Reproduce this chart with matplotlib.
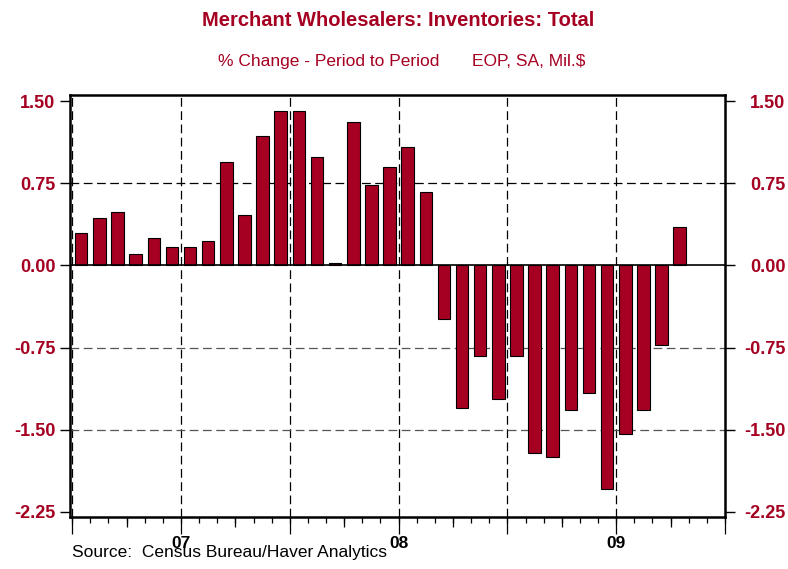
import numpy as np
import matplotlib
matplotlib.use("Agg")
import matplotlib.pyplot as plt

# ---------------- data ----------------
months = ["2007-01", "2007-02", "2007-03", "2007-04", "2007-05", "2007-06",
          "2007-07", "2007-08", "2007-09", "2007-10", "2007-11", "2007-12",
          "2008-01", "2008-02", "2008-03", "2008-04", "2008-05", "2008-06",
          "2008-07", "2008-08", "2008-09", "2008-10", "2008-11", "2008-12",
          "2009-01", "2009-02", "2009-03", "2009-04", "2009-05", "2009-06",
          "2009-07", "2009-08", "2009-09", "2009-10"]
pct_change = [0.30, 0.43, 0.49, 0.10, 0.25, 0.17,
              0.17, 0.22, 0.94, 0.46, 1.18, 1.41,
              1.41, 0.99, 0.02, 1.31, 0.73, 0.90,
              1.085, 0.67, -0.485, -1.30, -0.83, -1.22,
              -0.83, -1.71, -1.75, -1.32, -1.165, -2.04,
              -1.535, -1.32, -0.725, 0.35]
year_labels = ["07", "08", "09"]
y_ticks = [-2.25, -1.50, -0.75, 0.00, 0.75, 1.50]

title = "Merchant Wholesalers: Inventories: Total"
subtitle_left = "% Change - Period to Period"
subtitle_right = "EOP, SA, Mil.$"
source = "Source:  Census Bureau/Haver Analytics"

# ---------------- style ----------------
RED = "#A50021"
plt.rcParams["font.family"] = ["Liberation Sans", "DejaVu Sans"]

W, H = 788, 569
fig = plt.figure(figsize=(W / 100, H / 100), dpi=100)
ax = fig.add_axes([70 / W, 52 / H, 655 / W, 422 / H])

x = np.arange(len(pct_change))
ax.bar(x, pct_change, width=0.69, color=RED, edgecolor="black", linewidth=0.8, zorder=3)

n_months = 36
ax.set_xlim(-0.62, n_months - 0.5)
ax.set_ylim(-2.296, 1.555)

# gridlines
six_month = np.arange(-0.5, n_months - 0.5, 6)
for gx in six_month:
    ax.axvline(gx, color="black", lw=0.9, dashes=(7, 3.6), zorder=1)
for gy in y_ticks:
    if gy == 0.75:
        ax.axhline(gy, color="black", lw=0.9, dashes=(7, 3.6), zorder=1)
    elif gy in (-0.75, -1.50):
        ax.axhline(gy, color="#555555", lw=0.9, dashes=(7, 3.6), zorder=1)
ax.axhline(0, color="black", lw=1.2, zorder=4)

for s in ax.spines.values():
    s.set_linewidth(1.8)
    s.set_zorder(5)

# x ticks: six-month long ticks (with year labels), quarter ticks, monthly ticks
major_pos = np.arange(-0.5, n_months, 6)
ax.set_xticks(major_pos)
lbls = []
for i, p in enumerate(major_pos):
    if i % 2 == 1 and (i // 2) < len(year_labels):
        lbls.append(year_labels[i // 2])
    else:
        lbls.append("")
ax.set_xticklabels(lbls, fontsize=12.5, fontweight="bold")
ax.tick_params(axis="x", which="major", length=12.5, width=0.9, pad=1.0, direction="out")
ax.set_xticks(np.arange(-0.5, n_months, 3), minor=True)
ax.tick_params(axis="x", which="minor", length=7.5, width=0.9, direction="out")

sec = ax.secondary_xaxis("bottom")
sec.set_xticks(np.arange(-0.5, n_months, 1))
sec.set_xticklabels([])
sec.tick_params(length=4, width=0.9, direction="out")
sec.spines["bottom"].set_visible(False)

# y ticks
ax.set_yticks(y_ticks)
ax.set_yticklabels([f"{v:.2f}" for v in y_ticks], fontsize=13, fontweight="bold", color=RED)
ax.tick_params(axis="y", length=7, width=1.0, pad=3.5, direction="out")

ax2 = ax.twinx()
ax2.set_ylim(ax.get_ylim())
ax2.set_yticks(y_ticks)
ax2.set_yticklabels([f"{v:.2f}" for v in y_ticks], fontsize=13, fontweight="bold", color=RED)
# right labels are right-aligned near the figure edge
ax2.tick_params(axis="y", length=7, width=1.0, pad=36.5, direction="out")
for lab in ax2.get_yticklabels():
    lab.set_horizontalalignment("right")
for s in ax2.spines.values():
    s.set_visible(False)

# titles
fig.text(398 / W, 1 - 25.7 / H, title, ha="center", va="baseline", fontsize=14.5,
         fontweight="bold", color=RED)
fig.text(218 / W, 1 - 65.7 / H, subtitle_left, ha="left", va="baseline", fontsize=12.5,
         color=RED)
fig.text(472 / W, 1 - 65.7 / H, subtitle_right, ha="left", va="baseline", fontsize=12.5,
         color=RED)
fig.text(72 / W, 1 - 557 / H, source, ha="left", va="baseline", fontsize=12.5, color="black")

fig.savefig("out.png", dpi=100)
